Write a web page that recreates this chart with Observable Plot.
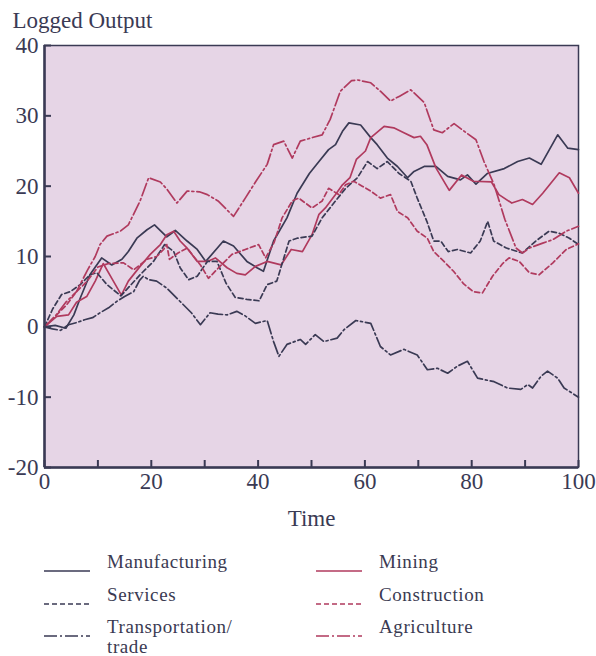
<!DOCTYPE html>
<html><head><meta charset="utf-8">
<script src="https://cdn.jsdelivr.net/npm/d3@7"></script>
<script src="https://cdn.jsdelivr.net/npm/@observablehq/plot@0.6"></script>
<style>
body{margin:0;background:#fff;font-family:"Liberation Serif",serif;color:#3a3a52;}
#chart{position:relative;width:596px;height:656px;overflow:hidden;}
#chart svg{display:block;}
.leg{position:absolute;font-size:19px;letter-spacing:0.6px;line-height:20px;color:#3a3a52;}
.sw{position:absolute;}
</style></head><body><div id="chart"></div>
<script>
// ---- data (time, logged output) ----
const manufacturingT = [0,2,4,5.5,6.7,8.5,10.7,12.6,14.5,15.7,17.3,19.2,20.6,22.9,24.5,26.7,28.6,30.2,33.5,35.4,37.9,39.8,41,42.9,45.4,47.3,49.6,51.4,53.2,54.5,55.8,57,59.2,61.1,62.3,64.2,66.1,68,69.2,71.1,73.3,75.5,77.9,79.2,80.8,82.9,86.1,88.6,90.8,93,96.1,98,100];
const manufacturingV = [0,0.2,-0.2,1.7,4.1,7.4,9.8,8.8,9.6,10.7,12.6,13.8,14.5,12.8,13.7,12.2,11,9.3,12.2,11.5,9.3,8.4,7.9,12.2,15.5,19,21.8,23.5,25.2,25.9,27.8,29,28.7,26.9,25.9,24,22.8,21.2,22.1,22.8,22.8,21.4,20.9,21.6,20.3,21.8,22.5,23.5,24,23.1,27.3,25.4,25.2];

const miningT = [0,2.3,4.5,6,7.9,9.5,11,12.6,14.4,15.7,17.9,19.8,21.7,22.9,24.2,25.4,26.7,28.6,30.5,32,34.2,36,37.6,39.5,41.7,44.3,46.2,48.3,50.1,51.4,52.6,54.5,55.8,57.2,58.4,60.1,61.1,63.6,65.4,67.3,69.2,70.4,71.6,73.3,75.8,78.1,80.3,83.7,85.1,87.5,89.5,91.4,93.3,96.4,98.3,100];
const miningV = [0,1.5,1.7,3.5,4.3,6.5,9,6.9,4.5,6.5,8.6,10.3,11.7,13.1,13.6,12.2,11.2,9.3,9.3,9.8,8.4,7.6,7.4,8.6,9.3,8.8,11,10.7,13.1,16,16.9,18.8,20.2,21.2,23.8,25,26.9,28.5,28.3,27.6,26.9,27.1,25.9,22.6,19.4,21.6,20.7,20.6,18.8,17.6,18.1,17.4,19,21.9,21.2,19];

const servicesT = [0,1.5,3.2,4.8,6.7,8.5,9.8,11.7,14.3,17.9,20.4,22.5,24.2,25.4,27,28.6,30.5,32.3,34,35.7,37.9,40.2,41.7,43.5,44.5,45.8,47.3,50.1,52,54.5,56.4,58.6,60.5,62.3,64.2,66.4,68.6,69.8,71.6,72.9,74.2,75.6,77.3,79.8,81.6,83,84.1,86.5,89.5,92,94.5,96.4,98.3,100];
const servicesV = [0,2.5,4.6,5,6,7.4,7.7,6,4.4,7.4,9.3,11.7,10.7,8.4,6.7,7.2,9.3,9.3,6.2,4.2,3.9,3.7,6,6.5,9,12.2,12.6,12.9,15.5,17.9,19.7,21.2,23.5,22.5,23.5,21.8,20.7,18.3,15,12.2,12.2,10.7,11,10.5,12.2,15,12.2,11.2,10.5,12.2,13.6,13.3,12.6,11.7];

const constructionT = [0,2,4,6,8,10,12,14.8,16.7,19.2,21,22.3,22.9,23.4,25,26.7,29.2,30.7,32.6,35.1,37.6,40.1,41.4,43,44.5,46.4,47.6,50.1,52,53.2,55.1,56.4,57.9,59.5,61.1,62.9,64.8,66.1,68,69.8,71.7,72.9,74.8,76.6,78.5,80.3,82,83.9,85.8,87,88.9,90.8,92.6,95.2,97.7,100];
const constructionV = [0,1.5,3,5,6.5,8.5,9,9.1,8.1,9.6,10,11,11.7,9.6,10.5,11.2,8.8,6.9,8.4,10.3,11,11.7,9.8,12,15.5,17.9,18.3,16.9,17.9,19.7,18.8,20.2,20.7,20,19.3,18.3,18.8,16.4,15.5,13.6,12.6,10.7,9.3,7.9,6.1,5,4.8,7.2,9,9.8,9.3,7.7,7.4,9.1,11,11.8];

const transportT = [0,1.5,3,4.5,6,7.5,9,10.4,12,13.5,15,16.7,17.8,18.5,19.5,21,22.9,25.4,27.5,29.2,31,32.5,34.2,36,37.5,39.5,41.7,42.9,43.9,45.4,47.9,48.9,50.7,52.3,54.8,56.1,58.3,61.1,62.9,64.8,67.3,69.8,71.7,73.6,75.5,77.3,79.2,81.1,84.2,86.7,89.2,90.5,91.4,93,94.2,96.1,97.3,100];
const transportV = [0,-0.3,-0.5,0.3,0.6,1,1.3,2,2.7,3.6,4.3,5,6.6,7.2,6.7,6.5,5.5,3.6,2,0.3,2,1.8,1.7,2.2,1.6,0.5,0.9,-2.1,-4.2,-2.5,-1.8,-2.5,-1.1,-2.1,-1.6,-0.4,0.9,0.5,-2.8,-4,-3.2,-4,-6.1,-5.9,-6.6,-5.6,-4.9,-7.3,-7.8,-8.7,-8.9,-8.2,-8.7,-7,-6.3,-7.3,-8.7,-10];

const agricultureT = [0,2,4,6,8,9.5,10.4,11.7,14.2,15.7,17.9,19.5,21.7,23,24.8,26.7,29,30.5,32.5,35.4,37.6,39.6,41.7,42.9,44.8,46.4,47.9,50.1,52,53.5,55.4,57.5,58.6,61.1,62.9,64.8,66.5,68.6,71.1,72.9,74.5,76.7,78.6,80.8,82.3,84.2,86.2,88.3,89.5,90.8,93.3,95.2,97.7,100];
const agricultureV = [0,1.5,3.5,5,8,10,11.7,12.9,13.6,14.5,17.9,21.2,20.6,19.5,17.6,19.3,19.2,18.8,17.9,15.7,18.3,20.7,23.1,25.9,26.4,24,26.4,26.9,27.3,29.5,33.5,35,35.1,34.7,33.5,32.1,32.8,33.7,31.9,28,27.6,28.9,27.8,26.6,23.5,20.2,15.3,11.2,10.5,11.2,11.9,12.4,13.6,14.3];

const xTicks = [0,10,20,30,40,50,60,70,80,90,100];
const xLabels = [0,20,40,60,80,100];
const yTicks = [-20,-10,0,10,20,30,40];

// ---- styles ----
const DARK = "#3a3a54";
const RED = "#b03a5e";
const series = [
  {name:"Manufacturing", t:manufacturingT, v:manufacturingV, color:DARK, dash:null},
  {name:"Mining", t:miningT, v:miningV, color:RED, dash:null},
  {name:"Services", t:servicesT, v:servicesV, color:DARK, dash:"5,3"},
  {name:"Construction", t:constructionT, v:constructionV, color:RED, dash:"5,3"},
  {name:"Transportation/trade", t:transportT, v:transportV, color:DARK, dash:"13,3,2,3"},
  {name:"Agriculture", t:agricultureT, v:agricultureV, color:RED, dash:"13,3,2,3"}
];
const rows = [];
for (const s of series) s.t.forEach((t,i) => rows.push({series:s.name, t, v:s.v[i]}));

const FONT = "Liberation Serif, serif";
const plot = Plot.plot({
  width:596, height:540,
  marginLeft:44, marginRight:18, marginTop:45, marginBottom:73,
  x:{domain:[0,100]}, y:{domain:[-20,40]},
  style:{fontFamily:FONT, fontSize:"23px", color:DARK, background:"transparent", overflow:"visible"},
  marks:[
    Plot.frame({fill:"#e6d5e6", stroke:DARK, strokeWidth:1.5}),
    ...series.map(s => Plot.line(rows.filter(r => r.series === s.name), {
      x:"t", y:"v", stroke:s.color, strokeWidth:1.7, strokeDasharray:s.dash, strokeLinejoin:"round"
    })),
    Plot.ruleX([0], {stroke:DARK, strokeWidth:2.5}),
    Plot.ruleY([-20], {stroke:DARK, strokeWidth:2.5}),
    Plot.axisX(xTicks, {tickSize:-7, tickFormat:() => "", label:null, stroke:DARK, strokeWidth:2}),
    Plot.axisX(xLabels, {tickSize:0, tickPadding:5, tickFormat:d => String(d), label:null, fill:DARK, fontSize:23, letterSpacing:"0.5px"}),
    Plot.axisY(yTicks, {tickSize:-7, tickFormat:() => "", label:null, stroke:DARK, strokeWidth:2}),
    Plot.axisY(yTicks, {tickSize:0, tickPadding:6, tickFormat:d => String(d), label:null, fill:DARK, fontSize:23, letterSpacing:"0.5px"}),
    Plot.text(["Logged Output"], {frameAnchor:"top-left", dx:-32, dy:-18, textAnchor:"start", lineAnchor:"bottom", fontSize:23, fill:DARK, letterSpacing:"1px"}),
    Plot.text(["Time"], {frameAnchor:"bottom", dy:58, lineAnchor:"bottom", fontSize:23, fill:DARK, letterSpacing:"1px"})
  ]
});
const chart = document.getElementById("chart");
chart.appendChild(plot);

// ---- legend ----
const legendItems = [
  {label:"Manufacturing", color:DARK, dash:null, x:44, y:552},
  {label:"Services", color:DARK, dash:"5,3", x:44, y:585},
  {label:"Transportation/<br>trade", color:DARK, dash:"13,3,2,3", x:44, y:617},
  {label:"Mining", color:RED, dash:null, x:316, y:552},
  {label:"Construction", color:RED, dash:"5,3", x:316, y:585},
  {label:"Agriculture", color:RED, dash:"13,3,2,3", x:316, y:617}
];
for (const it of legendItems) {
  const sw = document.createElementNS("http://www.w3.org/2000/svg","svg");
  sw.setAttribute("width", 48); sw.setAttribute("height", 6);
  sw.setAttribute("class","sw");
  sw.style.left = it.x + "px"; sw.style.top = (it.y + 16) + "px";
  const ln = document.createElementNS("http://www.w3.org/2000/svg","line");
  ln.setAttribute("x1",0); ln.setAttribute("x2",46); ln.setAttribute("y1",3); ln.setAttribute("y2",3);
  ln.setAttribute("stroke", it.color); ln.setAttribute("stroke-width", 1.6);
  if (it.dash) ln.setAttribute("stroke-dasharray", it.dash);
  sw.appendChild(ln);
  chart.appendChild(sw);
  const tx = document.createElement("div");
  tx.className = "leg";
  tx.style.left = (it.x + 63) + "px"; tx.style.top = it.y + "px";
  tx.innerHTML = it.label;
  chart.appendChild(tx);
}
</script>
</body></html>
